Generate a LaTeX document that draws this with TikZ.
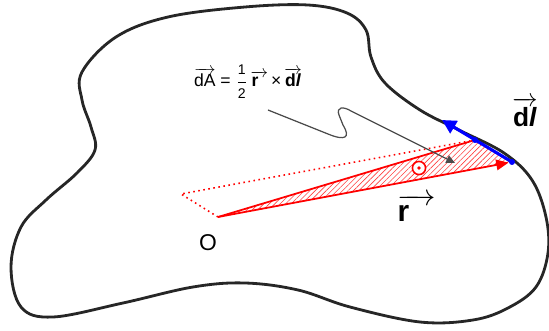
\documentclass[tikz,border=0pt]{standalone}
\usepackage{fontspec}
\setmainfont{Liberation Sans}
\usepackage{amsmath}
\usepackage{tikz}
\usetikzlibrary{arrows.meta, patterns.meta, positioning, calc}
\tikzstyle{outline} = [draw=black!85, line width=1.6pt, line join=round]
\tikzstyle{redline} = [draw=red, line width=1pt]
\tikzstyle{reddots} = [draw=red, line width=0.9pt, dotted]
\tikzstyle{rarrow} = [redline, -{Triangle[length=7pt, width=6pt]}]
\tikzstyle{bluevec} = [draw=blue, line width=1.8pt, -{Triangle[length=8pt, width=8pt]}]
\tikzstyle{pointer} = [draw=black!70, line width=0.7pt, -{Triangle[length=5pt, width=4.5pt]}]
\tikzstyle{lbl} = [inner sep=1pt]
\newcommand{\arrowvec}[1]{\ensuremath{\overrightarrow{\text{#1}}}}

\begin{document}
\begin{tikzpicture}[x=0.02cm, y=-0.02cm]
    \useasboundingbox (0,0) rectangle (549,331);

    % closed loop
    \draw [outline] plot [smooth cycle, tension=0.6] coordinates {
        (82,72) (116,37) (168,17) (245,7) (308,5) (347,13) (366,30) (371,57)
        (385,83) (420,110) (459,130) (504,153) (532,180) (546,217) (548,253)
        (536,287) (508,308) (473,320) (420,322) (350,307) (298,290) (245,283)
        (193,287) (123,303) (53,317) (21,307) (11,267) (21,227) (46,200)
        (77,173) (95,150) (91,127) (82,100)};

    \coordinate (O) at (218,217);
    \coordinate (R) at (512,162);
    \coordinate (P) at (475,140);
    \coordinate (Q) at (181,194);
    \coordinate (dltip) at (442,120);

    % swept area
    \fill [pattern={Lines[angle=45, distance=2.2pt, line width=0.35pt]}, pattern color=red!75] (O) -- (P) -- (R) -- cycle;
    \draw [reddots] (O) -- (Q) -- (P);
    \draw [redline] (O) -- (P);
    \draw [rarrow, shorten >=2pt] (O) -- (R);

    % line element
    \draw [bluevec] (R) -- (dltip);
    \fill [blue] (R) circle (3) (P) circle (3);

    \node (curl) [circle, draw=red, fill=white, line width=0.9pt, minimum size=7.5pt, inner sep=0pt] at (419,168) {};
    \fill [red] (curl.center) circle (1.8);

    \node (eq) [lbl, font=\fontsize{10}{12}\selectfont] at (248,82)
        {\arrowvec{dA} = $\dfrac{\text{\footnotesize 1}}{\text{\footnotesize 2}}$\,\arrowvec{\textbf{r}\kern0.5em}$\,$×$\,$\arrowvec{\textbf{d\textit{l}}}};
    \coordinate (eqfoot) at (268,110);
    \draw [pointer] (eqfoot) -- (328,134) .. controls (345,141) and (351,138) .. (343,125)
        -- (339,115) .. controls (336,107) and (343,106) .. (351,111) -- (455,163);

    \node (lblO) [lbl, font=\fontsize{13}{15}\selectfont] at (208,243) {O};
    \node (lblr) [lbl, font=\fontsize{17}{19}\selectfont] at (417,208) {\arrowvec{\textbf{r}\kern0.9em}};
    \node (lbldl) [lbl, font=\fontsize{15}{17}\selectfont] at (525,112) {\arrowvec{\textbf{d\textit{l}}}};
\end{tikzpicture}
\end{document}
